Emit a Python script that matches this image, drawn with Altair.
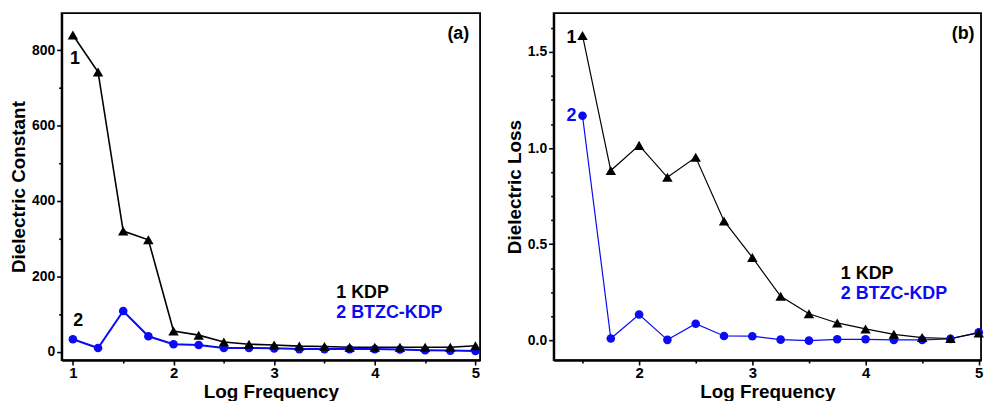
import altair as alt
import pandas as pd

# ---- data ----
x_a = [1.0, 1.25, 1.5, 1.75, 2.0, 2.25, 2.5, 2.75, 3.0, 3.25, 3.5, 3.75, 4.0, 4.25, 4.5, 4.75, 5.0]
kdp_const = [840, 742, 320, 297, 55, 44, 26, 20, 18, 15, 14, 12, 12, 12, 12, 12, 16]
btzc_const = [33, 10, 108, 41, 20, 18, 10, 10, 9, 7, 7, 7, 7, 6, 4, 3, 2]

x_b = [1.5, 1.75, 2.0, 2.25, 2.5, 2.75, 3.0, 3.25, 3.5, 3.75, 4.0, 4.25, 4.5, 4.75, 5.0]
kdp_loss = [1.586, 0.883, 1.014, 0.848, 0.952, 0.621, 0.431, 0.229, 0.138, 0.090, 0.059, 0.031, 0.014, 0.009, 0.038]
btzc_loss = [1.168, 0.009, 0.134, 0.002, 0.086, 0.022, 0.021, 0.003, -0.002, 0.005, 0.005, 0.002, 0.002, 0.007, 0.041]

series_names = ["BTZC-KDP", "KDP"]
series_colors = ["#0a0af5", "#000000"]
series_shapes = ["circle", "triangle-up"]
series_sizes = [75, 110]

ann_a_text = ["1", "2", "1 KDP", "2 BTZC-KDP", "(a)"]
ann_a_x = [1.02, 1.054, 3.617, 3.617, 4.83]
ann_a_y = [776, 81, 155, 102, 842]
ann_a_col = ["#000000", "#000000", "#000000", "#0a0af5", "#000000"]
ann_a_align = ["center", "center", "left", "left", "center"]

ann_b_text = ["1", "2", "1 KDP", "2 BTZC-KDP", "(b)"]
ann_b_x = [1.403, 1.403, 3.782, 3.782, 4.862]
ann_b_y = [1.572, 1.166, 0.347, 0.243, 1.593]
ann_b_col = ["#000000", "#0a0af5", "#000000", "#0a0af5", "#000000"]
ann_b_align = ["center", "center", "left", "left", "center"]

FONT = "Liberation Sans"


def long_df(xs, a, b):
    rows = []
    for x, v in zip(xs, b):
        rows.append({"x": x, "y": v, "s": "BTZC-KDP"})
    for x, v in zip(xs, a):
        rows.append({"x": x, "y": v, "s": "KDP"})
    return pd.DataFrame(rows)


def ann_df(t, x, y, c, al):
    return pd.DataFrame({"t": t, "x": x, "y": y, "c": c, "al": al})


def panel(df, ann, xdom, ydom, xvals, yvals, xlab_test, ylab_test, xfmt, yfmt, ytitle, w, lw_black, lw_blue):
    xaxis = alt.Axis(
        title="Log Frequency", values=xvals, labelOverlap=False, labelFlush=False,
        labelExpr=f"{xlab_test} ? format(datum.value, '{xfmt}') : ''",
        tickSize={"condition": {"test": xlab_test, "value": 5}, "value": 3},
    )
    yaxis = alt.Axis(
        title=ytitle, values=yvals, labelOverlap=False,
        labelExpr=f"{ylab_test} ? format(datum.value, '{yfmt}') : ''",
        tickSize={"condition": {"test": ylab_test, "value": 5}, "value": 3},
    )
    xenc = alt.X("x:Q", scale=alt.Scale(domain=xdom, nice=False, zero=False), axis=xaxis)
    yenc = alt.Y("y:Q", scale=alt.Scale(domain=ydom, nice=False, zero=False), axis=yaxis)
    col = alt.Color("s:N", scale=alt.Scale(domain=series_names, range=series_colors), legend=None)
    shp = alt.Shape("s:N", scale=alt.Scale(domain=series_names, range=series_shapes), legend=None)
    siz = alt.Size("s:N", scale=alt.Scale(domain=series_names, range=series_sizes), legend=None)

    base = alt.Chart(df)
    lines_blue = base.transform_filter(alt.datum.s == "BTZC-KDP").mark_line(strokeWidth=lw_blue).encode(
        x=xenc, y=yenc, color=col)
    lines_black = base.transform_filter(alt.datum.s == "KDP").mark_line(strokeWidth=lw_black).encode(
        x=xenc, y=yenc, color=col)
    pts = base.mark_point(filled=True, opacity=1).encode(
        x=xenc, y=yenc, color=col, shape=shp, size=siz,
        order=alt.Order("s:N", sort="ascending"))

    texts = []
    for al in ["left", "center"]:
        sub = ann[ann["al"] == al]
        texts.append(
            alt.Chart(sub).mark_text(align=al, baseline="middle", font=FONT, fontWeight="bold", fontSize=18).encode(
                x=alt.X("x:Q", axis=xaxis), y=alt.Y("y:Q", axis=yaxis), text="t:N",
                color=alt.Color("c:N", scale=None))
        )
    return alt.layer(lines_blue, lines_black, pts, *texts).properties(width=w, height=349)


pa = panel(
    long_df(x_a, kdp_const, btzc_const),
    ann_df(ann_a_text, ann_a_x, ann_a_y, ann_a_col, ann_a_align),
    [0.888, 5.046], [-22, 898],
    [1, 2, 3, 4, 5, 1.5, 2.5, 3.5, 4.5],
    [0, 200, 400, 600, 800, 100, 300, 500, 700],
    "datum.value % 1 == 0", "datum.value % 200 == 0", "d", "d",
    "Dielectric Constant", 421, 1.6, 2.0,
)

pb = panel(
    long_df(x_b, kdp_loss, btzc_loss),
    ann_df(ann_b_text, ann_b_x, ann_b_y, ann_b_col, ann_b_align),
    [1.245, 5.02], [-0.103, 1.702],
    [2, 3, 4, 5, 1.5, 2.5, 3.5, 4.5],
    [0, 0.5, 1.0, 1.5] + [i * 0.125 for i in range(14) if i % 4 != 0],
    "datum.value % 1 == 0", "datum.value % 0.5 == 0", "d", ".1f",
    "Dielectric Loss", 430, 1.2, 1.2,
)

chart = alt.hconcat(pa, pb, spacing=22).properties(
    padding={"left": 8, "top": 11, "right": 0, "bottom": 0}
).configure_view(
    stroke="#000000", strokeWidth=1.8
).configure_axis(
    grid=False, domainColor="#000000", domainWidth=2.2, tickColor="#000000", tickWidth=1.6,
    labelFont=FONT, labelFontWeight="bold", labelColor="#000000",
    titleFont=FONT, titleFontWeight="bold", titleFontSize=19, titleColor="#000000",
).configure_axisY(
    labelFontSize=14, labelPadding=2, titlePadding=3,
).configure_axisX(
    labelFontSize=15, labelPadding=1, titlePadding=2,
)

chart.save("out.html", embed_options={"renderer": "svg", "actions": False})
